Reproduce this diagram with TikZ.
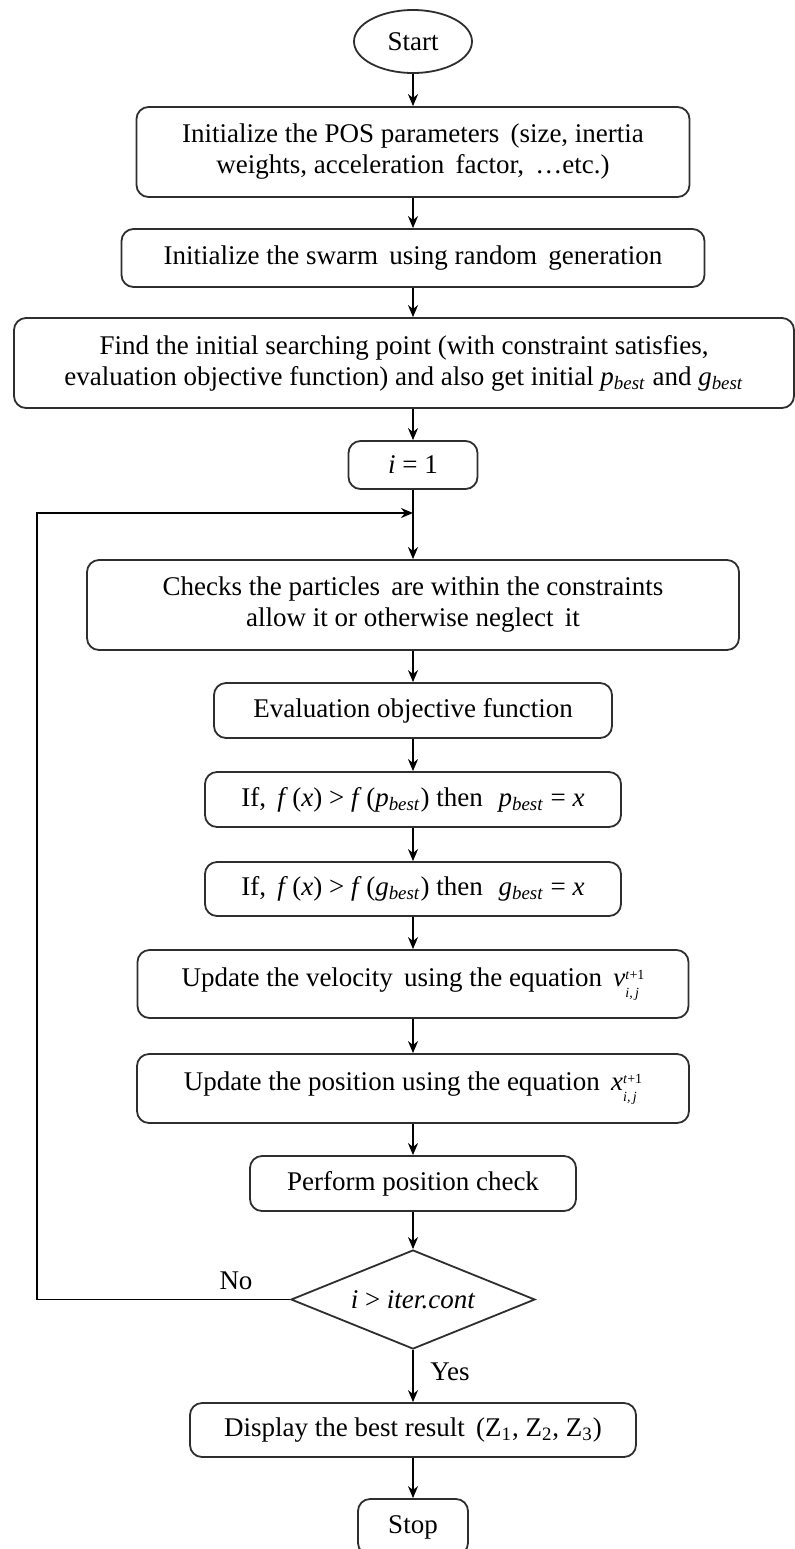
\documentclass[tikz,border=0pt]{standalone}
\usepackage{fontspec}
\setmainfont{Liberation Serif}
\usetikzlibrary{shapes.geometric,arrows.meta}
\definecolor{boxline}{rgb}{0.18, 0.18, 0.18}
\tikzset{proc/.style={draw=boxline, line width=0.9pt, rounded corners=6pt, fill=white, align=center, inner sep=0pt}}
\tikzset{term/.style={draw=boxline, line width=0.9pt, ellipse, fill=white, inner sep=0pt}}
\tikzset{dec/.style={draw=boxline, line width=0.9pt, diamond, aspect=2.46, fill=white, inner sep=0pt}}
\tikzset{arr/.style={line width=0.8pt, -{Stealth[length=6pt, width=5pt]}}}
\newcommand{\idx}[1]{\raisebox{-0.9ex}{\fontsize{7}{7}\selectfont\shortstack[l]{\textit{t}+1\\[1.5pt]\textit{#1}}}}

\begin{document}
\begin{tikzpicture}[x=0.5pt, y=-0.5pt, font=\fontsize{13.5}{15.5}\selectfont]
        \useasboundingbox (0,0) rectangle (795,1549);

        \node[term, minimum width=59pt, minimum height=31.5pt] (start) at (413, 41.5) {Start};
        \node[proc, minimum width=276.5pt, minimum height=45pt] (init) at (413, 152)
        {Initialize the POS parameters\, (size, inertia\\ weights, acceleration\, factor,\, \ldots etc.)};
        \node[proc, minimum width=291.5pt, minimum height=29pt] (swarm) at (413, 258)
        {Initialize the swarm\, using random\, generation};
        \node[proc, minimum width=390pt, minimum height=45pt] (search) at (404, 363)
        {Find the initial searching point (with constraint satisfies,\\
        evaluation objective function) and also get initial \textit{p}\textsubscript{\textit{best}} and \textit{g}\textsubscript{\textit{best}}};
        \node[proc, minimum width=64.5pt, minimum height=24pt] (ione) at (413, 465) {\textit{i} = 1};
        \coordinate (join) at (413, 513);
        \coordinate (back) at (37, 513);
        \node[proc, minimum width=326pt, minimum height=45pt] (check) at (413, 605)
        {Checks the particles\, are within the constraints\\ allow it or otherwise neglect\, it};
        \node[proc, minimum width=199pt, minimum height=27.5pt] (eval) at (413, 710.5)
        {Evaluation objective function};
        \node[proc, minimum width=208pt, minimum height=27.5pt] (ifp) at (413, 799.5)
        {If,\, \textit{f}\,(\textit{x}) > \textit{f}\,(\textit{p}\textsubscript{\textit{best}}) then\,\, \textit{p}\textsubscript{\textit{best}} = \textit{x}};
        \node[proc, minimum width=208pt, minimum height=27pt] (ifg) at (413, 889)
        {If,\, \textit{f}\,(\textit{x}) > \textit{f}\,(\textit{g}\textsubscript{\textit{best}}) then\,\, \textit{g}\textsubscript{\textit{best}} = \textit{x}};
        \node[proc, minimum width=275.5pt, minimum height=34pt] (velo) at (413, 984)
        {Update the velocity\, using the equation\, \textit{v}\idx{i,\,j}};
        \node[proc, minimum width=276pt, minimum height=34.5pt] (posn) at (413, 1088.5)
        {Update the position using the equation\, \textit{x}\idx{i,\,j}};
        \node[proc, minimum width=163pt, minimum height=27.5pt] (perf) at (413, 1183.5)
        {Perform position check};
        \node[dec, minimum width=122pt, minimum height=49.5pt] (cond) at (413, 1299.5)
        {\textit{i} > \textit{iter.cont}};
        \node[proc, minimum width=223pt, minimum height=27pt] (disp) at (413, 1430)
        {Display the best result\, (Z\textsubscript{1}, Z\textsubscript{2}, Z\textsubscript{3})};
        \node[proc, minimum width=55pt, minimum height=28pt] (stop) at (413, 1527) {Stop};

        \node (nolbl) at (236, 1281) {No};
        \node (yeslbl) at (450, 1372) {Yes};

        \draw [arr] (start) -- (init);
        \draw [arr] (init) -- (swarm);
        \draw [arr] (swarm) -- (swarm |- search.north);
        \draw [arr] (search.south -| ione) -- (ione);
        \draw [arr] (ione) -- (check);
        \draw [arr] (check) -- (eval);
        \draw [arr] (eval) -- (ifp);
        \draw [arr] (ifp) -- (ifg);
        \draw [arr] (ifg) -- (velo);
        \draw [arr] (velo) -- (posn);
        \draw [arr] (posn) -- (perf);
        \draw [arr] (perf) -- (cond);
        \draw [arr] (cond) -- (disp);
        \draw [arr] (disp) -- (stop);
        \draw [arr] (cond.west) -| (back) -- (join);

   \end{tikzpicture}
\end{document}
